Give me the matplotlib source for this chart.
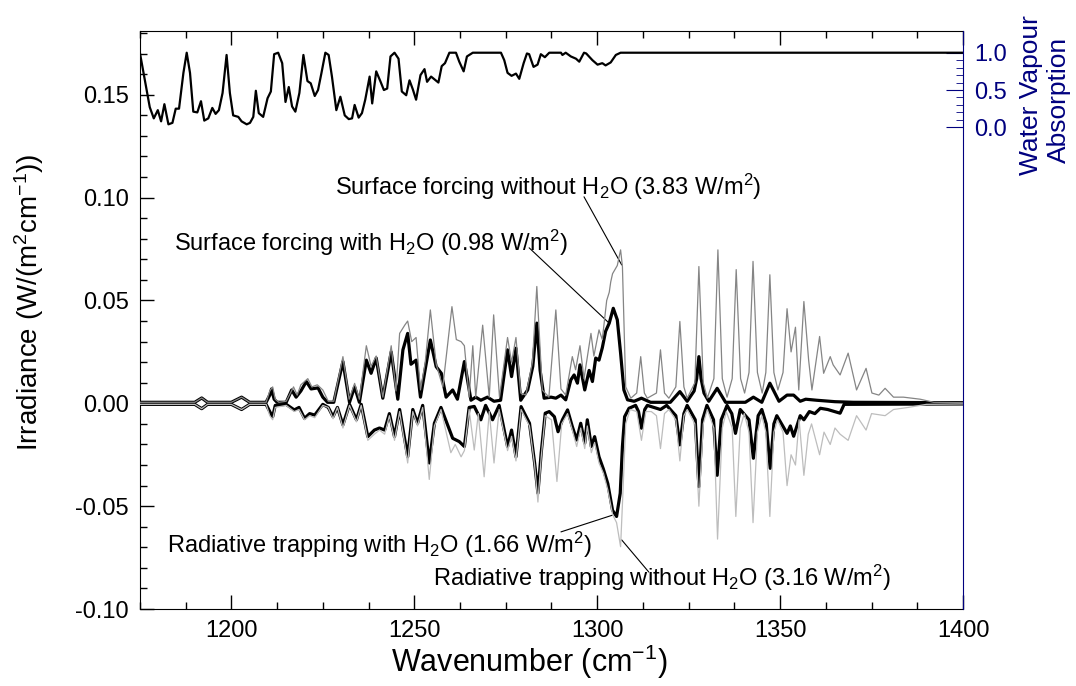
import matplotlib
matplotlib.use("Agg")
import matplotlib.pyplot as plt
from matplotlib.ticker import MultipleLocator, FixedLocator, FormatStrFormatter

plt.rcParams['font.family'] = ['Liberation Sans', 'DejaVu Sans']
plt.rcParams['mathtext.fontset'] = 'custom'
plt.rcParams['mathtext.rm'] = 'Liberation Sans'
plt.rcParams['mathtext.it'] = 'Liberation Sans:italic'

# water vapour absorption (right axis, 0..1)
wv_x = [1175.0, 1177.7, 1178.8, 1179.9, 1180.8, 1181.7, 1182.8, 1183.9, 1184.8, 1185.7,
        1186.9, 1187.8, 1188.7, 1189.6, 1190.7, 1191.7, 1192.6, 1193.7, 1194.8, 1195.7,
        1196.6, 1197.6, 1198.7, 1199.6, 1200.5, 1201.9, 1202.8, 1204.2, 1205.1, 1206.0,
        1206.7, 1207.5, 1208.7, 1209.9, 1210.8, 1211.7, 1212.8, 1213.9, 1214.8, 1215.7,
        1216.6, 1217.5, 1218.6, 1219.7, 1220.8, 1221.7, 1222.8, 1223.7, 1224.6, 1225.7,
        1226.6, 1227.5, 1228.7, 1229.8, 1231.0, 1232.1, 1233.0, 1233.7, 1234.8, 1235.7,
        1236.6, 1237.8, 1238.5, 1239.6, 1240.8, 1241.7, 1242.6, 1243.5, 1244.6, 1245.7,
        1246.6, 1247.8, 1248.7, 1249.6, 1250.5, 1251.7, 1252.8, 1253.5, 1254.6, 1256.6,
        1257.5, 1258.4, 1259.6, 1261.4, 1262.3, 1263.5, 1264.4, 1266.0, 1273.7, 1274.6,
        1275.5, 1276.6, 1277.8, 1278.7, 1279.9, 1280.8, 1281.4, 1282.6, 1283.7, 1284.6,
        1285.7, 1286.9, 1290.1, 1290.5, 1291.4, 1292.8, 1294.2, 1295.1, 1296.4, 1297.0,
        1298.7, 1300.1, 1301.4, 1302.3, 1303.7, 1305.1, 1306.4, 1400.0]
wv_y = [1.0, 0.27, 0.12, 0.23, 0.08, 0.31, 0.04, 0.06, 0.25, 0.25,
        0.73, 1.0, 0.73, 0.21, 0.20, 0.35, 0.09, 0.12, 0.26, 0.18,
        0.23, 0.46, 0.97, 0.46, 0.16, 0.14, 0.08, 0.04, 0.06, 0.14,
        0.49, 0.19, 0.14, 0.39, 0.48, 0.98, 1.0, 0.86, 0.34, 0.54,
        0.28, 0.21, 0.46, 0.97, 0.62, 0.59, 0.42, 0.50, 0.72, 1.0,
        0.97, 0.68, 0.23, 0.41, 0.16, 0.11, 0.12, 0.30, 0.13, 0.19,
        0.37, 0.68, 0.32, 0.75, 0.61, 0.50, 0.52, 0.95, 1.0, 0.92,
        0.48, 0.43, 0.63, 0.51, 0.37, 0.70, 0.78, 0.61, 0.68, 0.60,
        0.82, 0.86, 1.0, 1.0, 0.88, 0.75, 0.95, 1.0, 1.0, 0.90,
        0.73, 0.69, 0.72, 0.65, 0.86, 0.99, 0.98, 0.81, 0.84, 0.98,
        0.94, 1.0, 1.0, 0.97, 1.0, 0.95, 0.92, 0.88, 1.0, 0.99,
        0.90, 0.84, 0.86, 0.83, 0.87, 0.97, 1.0, 1.0]

# surface forcing with H2O
sw_x = [1175, 1190, 1191.9, 1193.5, 1200, 1202.8, 1205, 1209.5, 1210.5, 1211, 1211.7, 1212.5,
        1215, 1216.5, 1217.7, 1219, 1220.5, 1221.8, 1223.7, 1225, 1226.3, 1228, 1230.5, 1232.3,
        1233.7, 1235, 1236.9, 1238.2, 1239.6, 1241.4, 1243.7, 1245.5, 1246.9, 1248.2, 1249.1,
        1250.5, 1251.7, 1252.8, 1254.4, 1256, 1257.4, 1258.7, 1260.5, 1261.8, 1263.7, 1265.5,
        1266.8, 1268.2, 1270, 1271.8, 1273.6, 1275.5, 1276.6, 1277.8, 1279.1, 1281.0, 1282.4,
        1283.5, 1284.4, 1285.5, 1287.4, 1288.7, 1290.1, 1291.4, 1292.8, 1293.7, 1294.6, 1295.3,
        1296.6, 1297.8, 1298.7, 1299.6, 1300.5, 1301.4, 1302.3, 1303.3, 1304.4, 1305.5, 1306.4,
        1307.3, 1308.3, 1310.1, 1312.1, 1314.6, 1320, 1322.6, 1324.6, 1326.5, 1327.2, 1327.8,
        1328.4, 1329.2, 1330.5, 1332.8, 1335.1, 1340.5, 1342.7, 1345.0, 1347.2, 1349.7, 1351.9,
        1353.7, 1355.5, 1357, 1360, 1365, 1370, 1400]
sw_y = [0.0005, 0.0005, 0.0026, 0.0005, 0.0005, 0.003, 0.0005, 0.0005, 0.004, 0.007, 0.002, 0.0005,
        0.0005, 0.0065, 0.003, 0.006, 0.0106, 0.007, 0.0075, 0.003, 0.0005, 0.0005, 0.0203, 0.0005,
        0.008, 0.0005, 0.021, 0.0146, 0.022, 0.0025, 0.025, 0.002, 0.026, 0.034, 0.019,
        0.021, 0.003, 0.0146, 0.0308, 0.0178, 0.0146, 0.003, 0.0065, 0.002, 0.0203, 0.0015,
        0.003, 0.0015, 0.003, 0.001, 0.0015, 0.026, 0.013, 0.0268, 0.0015, 0.0065, 0.018,
        0.039, 0.016, 0.0025, 0.003, 0.0025, 0.004, 0.0017, 0.0114, 0.0138, 0.0098, 0.0187,
        0.0065, 0.016, 0.0106, 0.022, 0.021, 0.027, 0.035, 0.039, 0.0462, 0.0406, 0.0244,
        0.0065, 0.0017, 0.001, 0.0025, 0.0005, 0.0005, 0.0057, 0.001, 0.006, 0.012, 0.0227,
        0.012, 0.005, 0.001, 0.0073, 0.0005, 0.0005, 0.003, 0.0005, 0.0098, 0.001, 0.004,
        0.004, 0.001, 0.002, 0.0015, 0.0008, 0.0005, 0.0003]

# surface forcing without H2O
sn_x = [1175, 1190, 1191.9, 1193.5, 1200, 1202.8, 1205, 1209.5, 1210.5, 1211.3, 1212, 1213,
        1215, 1217, 1218, 1219, 1220.9, 1222, 1223.5, 1225, 1226.5, 1228, 1230.5, 1232.2,
        1233.7, 1235, 1236.9, 1238.2, 1239.6, 1241.4, 1243.7, 1245, 1246, 1247.4, 1248.2,
        1249.3, 1250.5, 1251.7, 1253, 1254.4, 1256, 1257.8, 1260.3, 1261.5, 1262.8, 1263.7,
        1265, 1266, 1266.8, 1268.7, 1270.5, 1271.7, 1273.3, 1275.5, 1276.6, 1277.8, 1279.1,
        1280.5, 1282.3, 1283.5, 1285.0, 1286.8, 1288.7, 1290.1, 1291.4, 1293.2, 1294.1, 1295.3,
        1296.4, 1298.3, 1299.1, 1300.5, 1301.4, 1302.6, 1303.3, 1303.7, 1304.2, 1305.5, 1306.4,
        1306.9, 1307.8, 1309.2, 1310.8, 1311.9, 1312.9, 1313.7, 1316.2, 1317.3, 1318.4, 1319.6,
        1321.5, 1322.6, 1323.7, 1324.6, 1326.7, 1327.8, 1329, 1330.1, 1331.9, 1333.0, 1334.2,
        1335.5, 1336.9, 1338.0, 1339.2, 1340.3, 1341.5, 1342.6, 1343.8, 1345.1, 1346.1, 1347.2,
        1348.3, 1349.4, 1350.8, 1351.9, 1353.0, 1354.2, 1355.1, 1356.5, 1357.8, 1358.7, 1360.8,
        1361.9, 1363.7, 1364.5, 1366.4, 1368.6, 1370.9, 1373.5, 1375.1, 1377, 1378.7, 1381.0,
        1383.7, 1388.3, 1392, 1400]
sn_y = [0.0005, 0.0005, 0.0026, 0.0005, 0.0005, 0.003, 0.0005, 0.0005, 0.006, 0.008, 0.002, 0.0005,
        0.001, 0.008, 0.004, 0.009, 0.012, 0.008, 0.009, 0.0065, 0.001, 0.001, 0.0227, 0.002,
        0.0097, 0.002, 0.028, 0.018, 0.023, 0.003, 0.028, 0.006, 0.034, 0.038, 0.040,
        0.030, 0.032, 0.0065, 0.020, 0.0454, 0.019, 0.008, 0.047, 0.031, 0.030, 0.028,
        0.003, 0.028, 0.003, 0.038, 0.003, 0.043, 0.003, 0.032, 0.020, 0.032, 0.005,
        0.004, 0.020, 0.0568, 0.0065, 0.003, 0.0454, 0.007, 0.004, 0.0227, 0.0163, 0.028,
        0.012, 0.034, 0.023, 0.0357, 0.031, 0.050, 0.054, 0.059, 0.063, 0.067, 0.0746,
        0.0665, 0.008, 0.0025, 0.005, 0.0227, 0.005, 0.0025, 0.005, 0.026, 0.005, 0.0025,
        0.008, 0.0398, 0.008, 0.0025, 0.010, 0.0665, 0.010, 0.0025, 0.012, 0.0746, 0.012,
        0.003, 0.012, 0.065, 0.012, 0.005, 0.015, 0.069, 0.015, 0.005, 0.015, 0.0625,
        0.015, 0.0065, 0.015, 0.046, 0.025, 0.037, 0.0065, 0.0495, 0.021, 0.0065, 0.0325,
        0.0146, 0.0227, 0.0187, 0.0138, 0.0244, 0.0065, 0.017, 0.005, 0.004, 0.0073, 0.003,
        0.003, 0.002, 0.0005, 0.0003]

# radiative trapping with H2O
tw_x = [1175, 1190, 1191.9, 1193.5, 1200, 1202.8, 1205, 1209.5, 1210.5, 1211.3, 1212,
        1215, 1217.2, 1218.5, 1220, 1221.4, 1222.8, 1225, 1226.5, 1227.8, 1229, 1230.5, 1232.3,
        1234.2, 1235.5, 1237.3, 1239.1, 1240.5, 1241.9, 1243.2, 1244.6, 1246, 1248.2, 1249.6,
        1250.9, 1252.3, 1254.1, 1255.5, 1257.3, 1260.5, 1262.3, 1263.7, 1265, 1266.4, 1268.2,
        1269.5, 1271.4, 1273.2, 1275.5, 1276.6, 1277.8, 1279.2, 1281.5, 1282.9, 1283.8, 1284.7,
        1285.8, 1286.9, 1288.3, 1289.3, 1290.5, 1291.9, 1293.2, 1294.4, 1295.5, 1296.6, 1297.3,
        1298.4, 1299.3, 1300.5, 1301.7, 1302.9, 1304.2, 1305.3, 1306.3, 1306.9, 1307.5, 1308.7,
        1310.5, 1311.3, 1312.1, 1313.0, 1313.7, 1317.3, 1319, 1321.5, 1322.6, 1323.7, 1324.6,
        1326.8, 1327.8, 1328.8, 1330, 1331.8, 1332.8, 1333.9, 1335.5, 1336.8, 1337.8, 1339.1,
        1341.5, 1342.7, 1344, 1345, 1346.2, 1347.3, 1348.3, 1349.1, 1351.9, 1352.8, 1353.7,
        1355.5, 1356.5, 1358, 1359.5, 1361, 1363, 1366.4, 1367.5, 1400]
tw_y = [-0.0005, -0.0005, -0.0026, -0.0005, -0.0005, -0.003, -0.0005, -0.0005, -0.004, -0.0065, -0.001,
        -0.0005, -0.0032, -0.002, -0.0073, -0.005, -0.0057, -0.0005, -0.002, -0.0065, -0.002, -0.0105, -0.0005,
        -0.008, -0.0005, -0.0162, -0.013, -0.012, -0.013, -0.005, -0.0162, -0.003, -0.026, -0.003,
        -0.0097, -0.001, -0.029, -0.0097, -0.002, -0.017, -0.0186, -0.021, -0.002, -0.0015, -0.008,
        -0.001, -0.008, -0.001, -0.021, -0.013, -0.026, -0.0016, -0.0097, -0.029, -0.0437, -0.024,
        -0.0048, -0.004, -0.0065, -0.0138, -0.008, -0.0032, -0.0113, -0.0178, -0.0097, -0.0194, -0.008,
        -0.021, -0.0162, -0.026, -0.032, -0.039, -0.052, -0.055, -0.0437, -0.021, -0.0065, -0.0024,
        -0.001, -0.004, -0.0121, -0.003, -0.001, -0.003, -0.001, -0.006, -0.0202, -0.005, -0.001,
        -0.008, -0.0405, -0.008, -0.001, -0.008, -0.035, -0.008, -0.001, -0.005, -0.0146, -0.003,
        -0.008, -0.0267, -0.006, -0.003, -0.010, -0.0316, -0.010, -0.006, -0.0146, -0.011, -0.016,
        -0.006, -0.008, -0.004, -0.005, -0.0024, -0.003, -0.0048, -0.0005, -0.0003]

# radiative trapping without H2O
tn_x = [1175, 1190, 1191.9, 1193.5, 1200, 1202.8, 1205, 1209.5, 1210.5, 1211.3, 1212,
        1215, 1217.2, 1218.5, 1220, 1221.4, 1222.8, 1225, 1226.5, 1227.8, 1229, 1230.5, 1232.3,
        1234.2, 1235.5, 1237.3, 1239.1, 1240.5, 1241.9, 1243.2, 1244.6, 1246, 1248.2, 1249.6,
        1250.9, 1252.3, 1254.1, 1255.5, 1257.3, 1260, 1261.2, 1262.8, 1263.7, 1265, 1266.4,
        1267.5, 1269.1, 1270.5, 1271.8, 1273.2, 1275.5, 1276.6, 1277.8, 1279.2, 1281.5, 1282.9,
        1283.8, 1284.7, 1285.8, 1287.5, 1289.0, 1290.3, 1291.9, 1293.2, 1294.4, 1295.5, 1296.6,
        1297.3, 1298.4, 1299.3, 1300.5, 1301.7, 1302.9, 1304.2, 1305.3, 1306.4, 1307.0, 1307.8,
        1309, 1310.8, 1312.1, 1313.3, 1314.8, 1316.2, 1317.3, 1318.4, 1319.6, 1321.5, 1322.6,
        1323.7, 1324.6, 1326.7, 1327.8, 1329, 1330.1, 1331.9, 1332.9, 1334.2, 1335.3, 1336.9,
        1337.9, 1339.1, 1340.2, 1341.5, 1342.6, 1343.8, 1345, 1346.1, 1347.2, 1348.3, 1349.3,
        1350.8, 1351.9, 1353, 1354.2, 1355.2, 1356.5, 1357.7, 1358.6, 1360.8, 1362, 1363.7,
        1365, 1366.4, 1368.6, 1370.9, 1373.5, 1375, 1378.7, 1381, 1385, 1390, 1400]
tn_y = [-0.0005, -0.0005, -0.0026, -0.0005, -0.0005, -0.003, -0.0005, -0.0005, -0.006, -0.008, -0.002,
        -0.001, -0.004, -0.003, -0.008, -0.006, -0.007, -0.001, -0.002, -0.0075, -0.002, -0.012, -0.001,
        -0.009, -0.001, -0.018, -0.015, -0.013, -0.015, -0.006, -0.018, -0.004, -0.029, -0.004,
        -0.011, -0.002, -0.037, -0.011, -0.003, -0.024, -0.020, -0.026, -0.023, -0.003, -0.0227,
        -0.005, -0.0357, -0.004, -0.029, -0.003, -0.023, -0.016, -0.028, -0.003, -0.011, -0.030,
        -0.048, -0.026, -0.006, -0.008, -0.038, -0.010, -0.005, -0.013, -0.021, -0.012, -0.022,
        -0.011, -0.024, -0.019, -0.029, -0.034, -0.042, -0.054, -0.058, -0.0697, -0.045, -0.010,
        -0.003, -0.004, -0.018, -0.004, -0.004, -0.006, -0.022, -0.005, -0.003, -0.008, -0.028,
        -0.006, -0.003, -0.010, -0.050, -0.010, -0.003, -0.012, -0.066, -0.012, -0.004, -0.012,
        -0.055, -0.012, -0.005, -0.014, -0.058, -0.014, -0.006, -0.014, -0.055, -0.014, -0.008,
        -0.014, -0.040, -0.025, -0.030, -0.008, -0.035, -0.015, -0.010, -0.025, -0.014, -0.020,
        -0.012, -0.015, -0.018, -0.006, -0.013, -0.005, -0.006, -0.003, -0.002, -0.0005, -0.0003]

fig = plt.figure(figsize=(10.76, 6.86), dpi=100)
ax = fig.add_axes([0.130, 0.1122, 0.765, 0.8426])

ax.plot(sw_x, sw_y, color='black', lw=2.3, zorder=3)
ax.plot(tw_x, tw_y, color='black', lw=2.3, zorder=3)
ax.plot(sn_x, sn_y, color='#858585', lw=0.9, zorder=4)
ax.plot(tn_x, tn_y, color='#bdbdbd', lw=0.9, zorder=4)

ax.set_xlim(1175, 1400)
ax.set_ylim(-0.10, 0.181)
ax.xaxis.set_major_locator(MultipleLocator(50))
ax.xaxis.set_minor_locator(MultipleLocator(12.5))
ax.yaxis.set_major_locator(MultipleLocator(0.05))
ax.yaxis.set_minor_locator(MultipleLocator(0.01))
ax.yaxis.set_major_formatter(FormatStrFormatter('%.2f'))
ax.tick_params(which='both', direction='in', top=True, right=False, labelsize=17, pad=8)
ax.tick_params(which='major', length=10, width=1)
ax.tick_params(which='minor', length=5, width=1)
ax.spines['right'].set_visible(False)

ax.set_xlabel('Wavenumber (cm$^{-1}$)', fontsize=22)
ax.set_ylabel('Irradiance (W/(m$^2$cm$^{-1}$))', fontsize=20)
ax.xaxis.set_label_coords(0.473, -0.092)
ax.xaxis.label.set_va('center')
ax.yaxis.set_label_coords(-0.134, 0.53)
ax.yaxis.label.set_va('center')

# right axis: water vapour absorption
ax2 = ax.twinx()
ax2.plot(wv_x, wv_y, color='black', lw=1.6)
ax2.set_ylim(-6.457, 1.291)
ax2.yaxis.set_major_locator(FixedLocator([0.0, 0.5, 1.0]))
ax2.yaxis.set_minor_locator(FixedLocator([0.1, 0.2, 0.3, 0.4, 0.6, 0.7, 0.8, 0.9]))
ax2.yaxis.set_major_formatter(FormatStrFormatter('%.1f'))
ax2.spines['right'].set_color('#00007f')
for s in ['left', 'top', 'bottom']:
    ax2.spines[s].set_visible(False)
ax2.tick_params(which='both', direction='in', colors='#00007f', labelsize=17, pad=8)
ax2.tick_params(which='major', length=12)
ax2.tick_params(which='minor', length=5)
fig.text(0.958, 0.862, 'Water Vapour', rotation=90, color='#00007f', fontsize=19,
         ha='center', va='center')
fig.text(0.984, 0.855, 'Absorption', rotation=90, color='#00007f', fontsize=19,
         ha='center', va='center')

# annotations
fs = 17
ax.text(1228.2, 0.1052, 'Surface forcing without H$_2$O (3.83 W/m$^2$)', fontsize=fs, va='center')
ax.annotate('', xy=(1306.7, 0.0673), xytext=(1296.4, 0.1004),
            arrowprops=dict(arrowstyle='-', lw=0.8, color='black', shrinkA=0, shrinkB=0))
ax.text(1184.3, 0.078, 'Surface forcing with H$_2$O (0.98 W/m$^2$)', fontsize=fs, va='center')
ax.annotate('', xy=(1303.2, 0.0391), xytext=(1281.4, 0.0756),
            arrowprops=dict(arrowstyle='-', lw=0.8, color='black', shrinkA=0, shrinkB=0))
ax.text(1182.4, -0.0689, 'Radiative trapping with H$_2$O (1.66 W/m$^2$)', fontsize=fs, va='center')
ax.annotate('', xy=(1304.3, -0.0543), xytext=(1290.1, -0.0625),
            arrowprops=dict(arrowstyle='-', lw=0.8, color='black', shrinkA=0, shrinkB=0))
ax.text(1255.2, -0.0849, 'Radiative trapping without H$_2$O (3.16 W/m$^2$)', fontsize=fs, va='center')
ax.annotate('', xy=(1306.7, -0.0664), xytext=(1314.1, -0.082),
            arrowprops=dict(arrowstyle='-', lw=0.8, color='black', shrinkA=0, shrinkB=0))

fig.savefig('out.png', dpi=100)
